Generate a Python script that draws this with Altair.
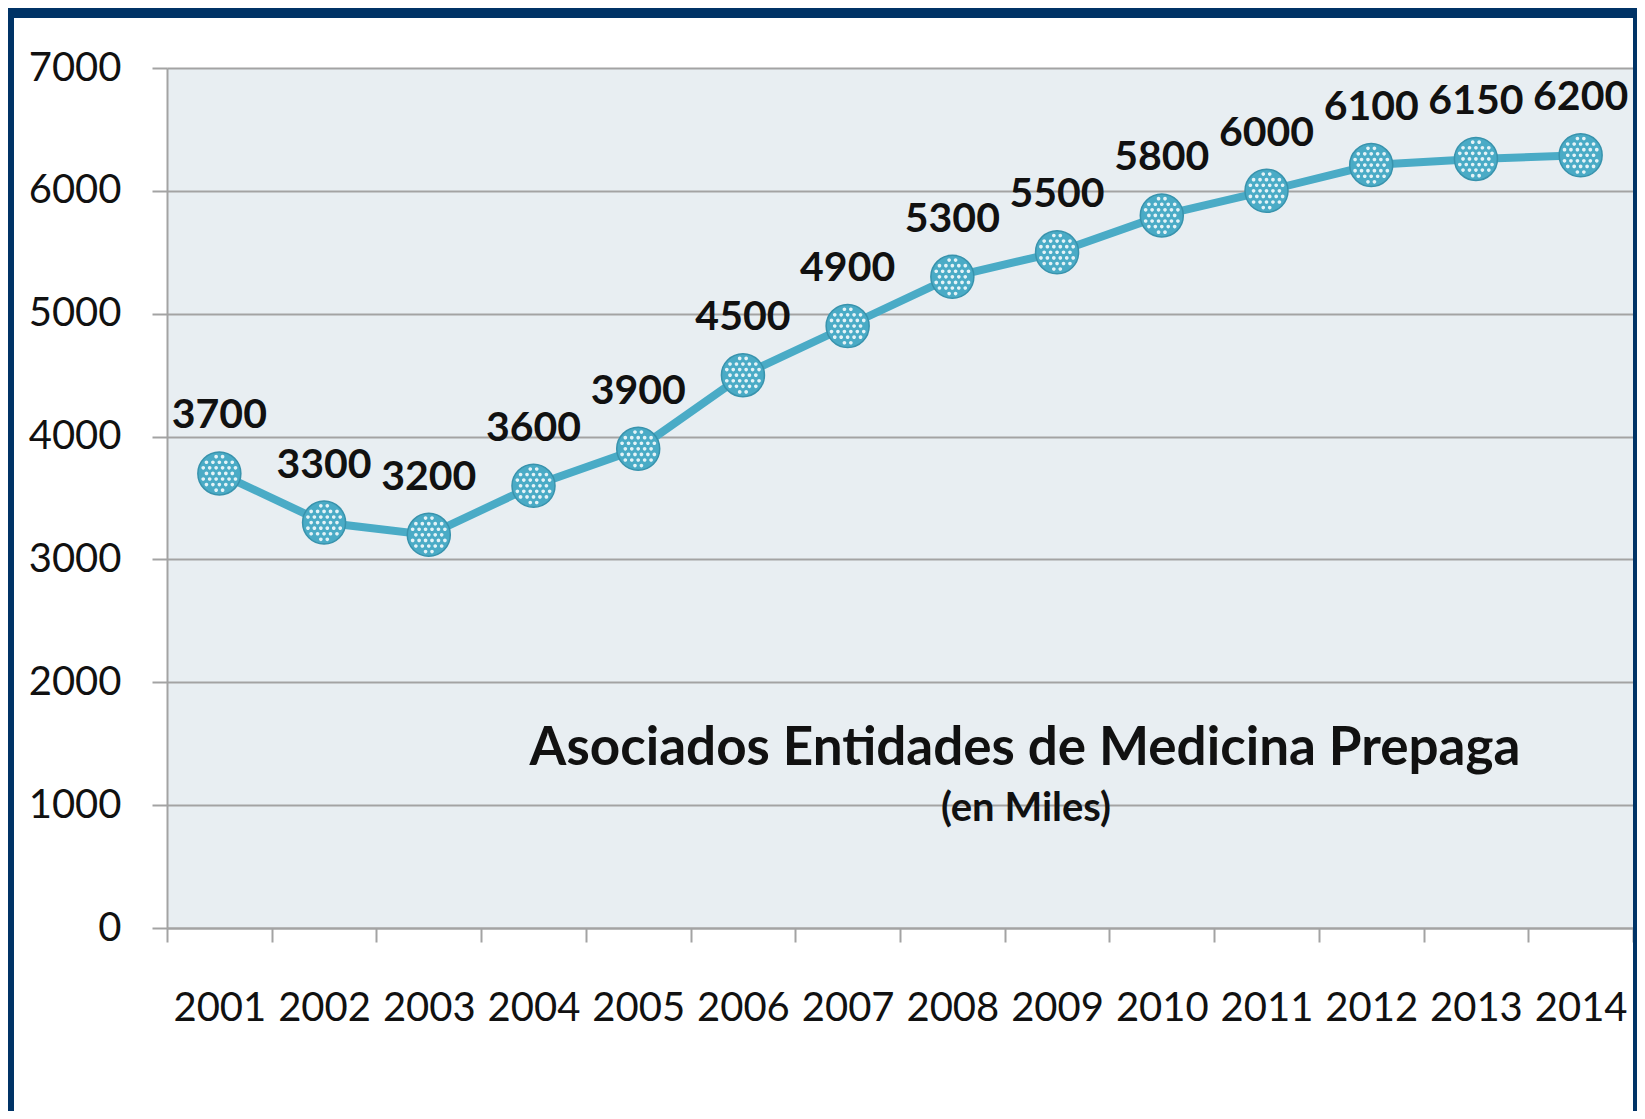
import altair as alt
import pandas as pd

# ---- data ----
years = ["2001", "2002", "2003", "2004", "2005", "2006", "2007",
         "2008", "2009", "2010", "2011", "2012", "2013", "2014"]
values = [3700, 3300, 3200, 3600, 3900, 4500, 4900,
          5300, 5500, 5800, 6000, 6210, 6260, 6290]
labels = ["3700", "3300", "3200", "3600", "3900", "4500", "4900",
          "5300", "5500", "5800", "6000", "6100", "6150", "6200"]
y_ticks = [0, 1000, 2000, 3000, 4000, 5000, 6000, 7000]
title_text = ["Asociados Entidades de Medicina Prepaga"]
subtitle_text = ["(en Miles)"]

df = pd.DataFrame({"year": years, "value": values, "label": labels})

# ---- layout / style ----
W, H = 1466, 860
PAD_L, PAD_T, PAD_R, PAD_B = 159, 60, 4, 183
FONT = "Lato"
LINE = "#4aabc6"
GRID = "#a3a3a3"
NAVY = "#003366"


def dot_path():
    parts = []
    r = 0.085
    s = 0.3
    for row in range(-4, 5):
        yy = row * s * 0.866
        off = (row % 2) * s / 2
        for col in range(-5, 6):
            xx = col * s + off
            if xx * xx + yy * yy <= 0.8 ** 2:
                parts.append(
                    f"M{xx - r:.3f},{yy:.3f}a{r},{r} 0 1,0 {2 * r:.3f},0"
                    f"a{r},{r} 0 1,0 {-2 * r:.3f},0Z"
                )
    return "".join(parts)


x_enc = alt.X(
    "year:O",
    sort=years,
    scale=alt.Scale(type="band", paddingInner=0, paddingOuter=0),
    axis=alt.Axis(
        title=None, labelAngle=0, labelFont=FONT, labelFontSize=40,
        labelColor="#111111", labelPadding=78, labelBaseline="alphabetic",
        tickBand="extent", tickSize=14, tickColor=GRID, tickWidth=2,
        domainColor=GRID, domainWidth=2, grid=False,
    ),
)
y_enc = alt.Y(
    "value:Q",
    scale=alt.Scale(domain=[0, 7000], nice=False, zero=True),
    axis=alt.Axis(
        title=None, values=y_ticks, format="d", labelFont=FONT,
        labelFontSize=40, labelColor="#111111", labelPadding=31,
        tickSize=15, tickColor=GRID, tickWidth=2,
        domainColor=GRID, domainWidth=2,
        grid=True, gridColor=GRID, gridWidth=2,
    ),
)

base = alt.Chart(df)

line = base.mark_line(color=LINE, strokeWidth=8).encode(x=x_enc, y=y_enc)

points = base.mark_point(
    shape="circle", filled=True, size=1850, fill=LINE, stroke="#3893ad",
    strokeWidth=1.5, opacity=1,
).encode(x=x_enc, y=y_enc)

dots = base.mark_point(
    shape=dot_path(), filled=True, size=1850, fill="#ffffff",
    strokeWidth=0, opacity=0.85,
).encode(x=x_enc, y=y_enc)

text = base.mark_text(
    font=FONT, fontSize=41, fontWeight="bold", color="#111111",
    align="center", baseline="alphabetic", dy=-45,
).encode(x=x_enc, y=y_enc, text="label:N")

title = alt.Chart(pd.DataFrame({"t": title_text})).mark_text(
    font=FONT, fontSize=53, fontWeight="bold", color="#111111",
    align="center", baseline="alphabetic",
).encode(x=alt.value(858), y=alt.value(697), text="t:N")

subtitle = alt.Chart(pd.DataFrame({"t": subtitle_text})).mark_text(
    font=FONT, fontSize=40, fontWeight="bold", color="#111111",
    align="center", baseline="alphabetic",
).encode(x=alt.value(859), y=alt.value(753), text="t:N")

frame_df = pd.DataFrame({"k": [0]})
frame_left = alt.Chart(frame_df).mark_rect(color=NAVY).encode(
    x=alt.value(-PAD_L), x2=alt.value(-PAD_L + 6),
    y=alt.value(-PAD_T), y2=alt.value(H + PAD_B),
)
frame_top = alt.Chart(frame_df).mark_rect(color=NAVY).encode(
    x=alt.value(-PAD_L), x2=alt.value(W + PAD_R),
    y=alt.value(-PAD_T), y2=alt.value(-PAD_T + 10),
)
frame_right = alt.Chart(frame_df).mark_rect(color=NAVY).encode(
    x=alt.value(W), x2=alt.value(W + PAD_R),
    y=alt.value(-PAD_T), y2=alt.value(H + PAD_B),
)

chart = alt.layer(
    line, points, dots, text, title, subtitle,
    frame_left, frame_top, frame_right,
).properties(
    width=W, height=H,
    autosize=alt.AutoSizeParams(type="none"),
    padding={"left": PAD_L, "top": PAD_T, "right": PAD_R, "bottom": PAD_B},
    background="white",
).configure_view(
    fill="#e8eef2", strokeWidth=0,
)

chart.save("out.html", embed_options={"renderer": "svg", "actions": False})
